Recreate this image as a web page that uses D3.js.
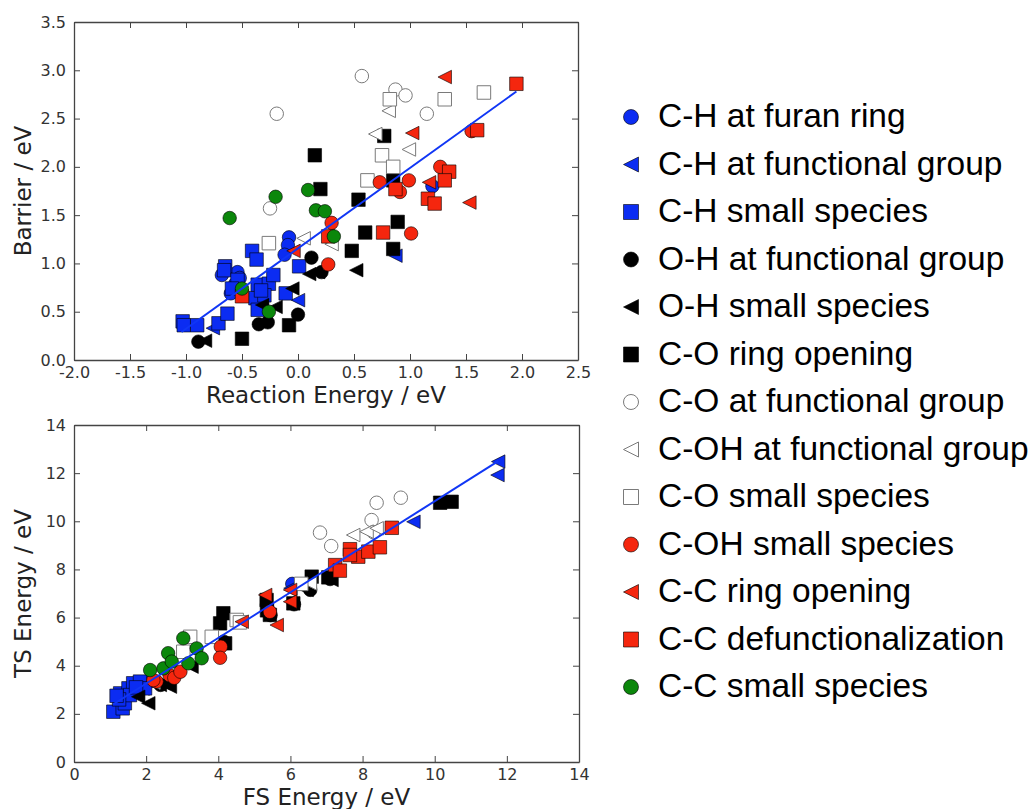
<!DOCTYPE html>
<html>
<head>
<meta charset="utf-8">
<script src="https://cdn.jsdelivr.net/npm/d3@7"></script>
<style>
  body { margin: 0; background: #fff; }
  .tick text { font-family: "DejaVu Sans", sans-serif; font-size: 16px; fill: #333; }
  .axlabel { font-family: "DejaVu Sans", sans-serif; font-size: 23px; fill: #222; }
  .legend text { font-family: "Liberation Sans", Arial, sans-serif; font-size: 33.5px; fill: #000; }
</style>
</head>
<body>
<div id="chart"></div>
<script>
// series, in legend order
const seriesNames = ["C-H at furan ring", "C-H at functional group", "C-H small species",
  "O-H at functional group", "O-H small species", "C-O ring opening",
  "C-O at functional group", "C-OH at functional group", "C-O small species",
  "C-OH small species", "C-C ring opening", "C-C defunctionalization", "C-C small species"];
const seriesShapes = ["circle", "triangle", "square", "circle", "triangle", "square",
  "circle", "triangle", "square", "circle", "triangle", "square", "circle"];
const seriesColors = ["#0b2cf2", "#0b2cf2", "#0b2cf2", "#000", "#000", "#000",
  "#fff", "#fff", "#fff", "#f5260e", "#f5260e", "#f5260e", "#0b870b"];

// top panel: [reaction energy, barrier] in eV
const chFuranTop = [[-0.08,1.27],[-0.09,1.19],[-0.12,1.09],[-0.68,0.88],[-0.54,0.91],[-0.60,0.69],[-0.56,0.79],[1.20,1.80],[-0.52,0.85]];
const chFuncTop = [[0.00,0.62],[-0.76,0.33],[0.87,1.08]];
const chSmallTop = [[-1.03,0.40],[-1.02,0.36],[-0.90,0.36],[-0.71,0.38],[-0.63,0.48],[-0.65,0.97],[-0.66,0.93],[-0.54,0.83],[-0.59,0.74],[-0.41,1.13],[-0.37,1.04],[-0.36,0.78],[-0.26,0.79],[-0.22,0.88],[-0.38,0.64],[-0.30,0.67],[-0.36,0.52],[-0.11,0.69],[0.01,0.97],[-0.33,0.72]];
const ohFuncTop = [[-0.89,0.19],[-0.35,0.37],[-0.27,0.39],[0.00,0.47],[0.12,1.06],[0.21,0.91]];
const ohSmallTop = [[-0.83,0.20],[-0.32,0.57],[-0.20,0.55],[-0.05,0.74],[0.10,0.89],[0.18,0.91],[0.52,0.93]];
const coRingTop = [[0.15,2.12],[0.77,2.32],[0.20,1.77],[0.54,1.66],[0.85,1.86],[0.60,1.32],[0.89,1.43],[0.48,1.13],[0.85,1.15],[-0.08,0.36],[-0.50,0.22]];
const coFuncTop = [[0.57,2.94],[0.87,2.80],[0.96,2.74],[1.15,2.55],[-0.19,2.55],[-0.25,1.57]];
const cohFuncTop = [[0.81,2.58],[0.69,2.34],[0.99,2.18],[0.30,1.20],[0.05,1.26]];
const coSmallTop = [[0.82,2.70],[1.31,2.70],[1.66,2.77],[0.75,2.12],[0.85,2.00],[0.62,1.86],[-0.26,1.21]];
const cohSmallTop = [[0.73,1.84],[0.99,1.86],[0.91,1.74],[1.27,2.00],[1.55,2.37],[0.30,1.42],[0.27,0.99],[1.01,1.31]];
const ccRingTop = [[1.31,2.93],[1.02,2.35],[1.17,1.84],[1.53,1.63],[-0.04,1.13]];
const ccDefuncTop = [[1.95,2.86],[1.60,2.38],[1.35,1.95],[1.31,1.86],[0.87,1.77],[1.16,1.67],[1.22,1.62],[0.76,1.32],[0.27,1.28],[-0.50,0.66]];
const ccSmallTop = [[-0.61,1.47],[-0.20,1.69],[0.09,1.76],[0.16,1.55],[0.24,1.54],[0.32,1.28],[-0.50,0.74],[-0.26,0.50]];
const topFit = [[-1.04,0.29],[1.95,2.78]];

// bottom panel: [FS energy, TS energy] in eV
const chFuranBot = [[1.60,3.00],[1.85,3.20],[6.05,7.40],[2.10,3.35]];
const chFuncBot = [[11.76,12.48],[11.74,11.92],[9.41,9.98],[1.90,3.05],[6.00,7.22]];
const chSmallBot = [[1.09,2.09],[1.35,2.23],[1.28,2.85],[1.41,2.44],[1.51,3.06],[1.64,3.27],[1.83,3.34],[1.55,2.78],[1.97,3.06],[1.25,2.60],[1.18,2.75],[1.72,3.10]];
const ohFuncBot = [[2.40,3.20],[4.15,5.00],[5.45,6.10],[6.10,6.55],[6.55,7.15],[7.10,7.60]];
const ohSmallBot = [[2.06,2.44],[1.78,2.71],[2.38,3.20],[2.66,3.13],[3.26,3.96],[2.48,3.27],[6.45,7.15],[7.14,7.56]];
const coRingBot = [[4.14,6.18],[4.05,5.76],[4.19,4.93],[10.15,10.77],[10.47,10.81],[5.43,6.11],[5.34,6.73],[6.08,6.59],[7.05,7.67],[6.59,7.70],[5.35,6.30]];
const coFuncBot = [[6.82,9.53],[7.13,8.97],[8.39,10.77],[9.06,10.98],[8.25,10.05],[8.30,9.55]];
const cohFuncBot = [[7.74,9.43],[8.11,9.57],[8.39,9.71],[6.54,7.42],[2.20,3.30]];
const coSmallBot = [[4.51,5.90],[3.82,5.20],[3.03,4.58],[3.22,5.20],[4.60,5.80],[6.30,7.40]];
const cohSmallBot = [[2.29,3.34],[2.65,3.60],[2.78,3.50],[2.95,3.75],[4.07,4.79],[4.05,4.33],[5.43,6.24],[2.20,3.40]];
const ccRingBot = [[4.65,5.83],[5.62,5.69],[5.30,6.94],[5.99,7.15],[5.99,6.66]];
const ccDefuncBot = [[8.81,9.73],[7.65,8.84],[7.88,8.53],[8.16,8.74],[8.48,8.92],[7.65,8.60],[7.24,8.18],[7.37,7.95]];
const ccSmallBot = [[2.11,3.82],[2.61,4.52],[3.03,5.14],[3.40,4.72],[3.54,4.31],[2.48,3.89],[3.17,4.10],[2.71,4.17]];
const bottomFit = [[1.09,2.40],[11.76,12.50]];

const topTicksX = [-2.0,-1.5,-1.0,-0.5,0.0,0.5,1.0,1.5,2.0,2.5];
const topTicksY = [0.0,0.5,1.0,1.5,2.0,2.5,3.0,3.5];
const botTicks = [0,2,4,6,8,10,12,14];

const topSets = [chFuranTop, chFuncTop, chSmallTop, ohFuncTop, ohSmallTop, coRingTop,
  coFuncTop, cohFuncTop, coSmallTop, cohSmallTop, ccRingTop, ccDefuncTop, ccSmallTop];
const botSets = [chFuranBot, chFuncBot, chSmallBot, ohFuncBot, ohSmallBot, coRingBot,
  coFuncBot, cohFuncBot, coSmallBot, cohSmallBot, ccRingBot, ccDefuncBot, ccSmallBot];

const W = 1035, H = 809;
const svg = d3.select("#chart").append("svg")
    .attr("width", W).attr("height", H);

function markerPath(shape, s) {
  if (shape === "circle") return d3.symbol(d3.symbolCircle, Math.PI * s * s / 4)();
  if (shape === "square") return d3.symbol(d3.symbolSquare, s * s)();
  const h = s / 2;  // left-pointing triangle
  return `M${-h},0L${h},${-h}L${h},${h}Z`;
}

function drawMarks(sel, i, size) {
  const hollow = seriesColors[i] === "#fff";
  sel.attr("d", markerPath(seriesShapes[i], size))
    .attr("fill", seriesColors[i])
    .attr("stroke", hollow ? "#7a7a7a" : "#000")
    .attr("stroke-width", hollow ? 1 : 0.6);
}

function drawPanel(box, sets, xDom, yDom, xTicks, yTicks, fmt, fit, xLabel, yLabel, xLabelY) {
  const x = d3.scaleLinear().domain(xDom).range([box.left, box.right]);
  const y = d3.scaleLinear().domain(yDom).range([box.bottom, box.top]);
  const g = svg.append("g");

  const axes = [
    [d3.axisBottom(x).tickValues(xTicks).tickFormat(fmt), `translate(0,${box.bottom})`],
    [d3.axisTop(x).tickValues(xTicks).tickFormat(""), `translate(0,${box.top})`],
    [d3.axisLeft(y).tickValues(yTicks).tickFormat(fmt), `translate(${box.left},0)`],
    [d3.axisRight(y).tickValues(yTicks).tickFormat(""), `translate(${box.right},0)`]
  ];
  axes.forEach(([ax, tr], k) => {
    const a = g.append("g").attr("transform", tr)
      .call(ax.tickSizeInner(-6).tickSizeOuter(0).tickPadding(k === 2 ? 8 : 7));
    a.select(".domain").attr("stroke", "#444").attr("stroke-width", 1.3);
    a.selectAll(".tick line").attr("stroke", "#444").attr("stroke-width", 1);
    a.attr("font-size", null).attr("font-family", null);
  });

  sets.forEach((pts, i) => {
    g.append("g").selectAll("path")
      .data(pts)
      .join("path")
      .attr("transform", d => `translate(${x(d[0])},${y(d[1])})`)
      .call(drawMarks, i, 13.5);
  });

  g.append("path")
    .datum(fit)
    .attr("fill", "none")
    .attr("stroke", "#1036f5")
    .attr("stroke-width", 2)
    .attr("d", d3.line().x(d => x(d[0])).y(d => y(d[1])));

  g.append("text").attr("class", "axlabel")
    .attr("x", (box.left + box.right) / 2).attr("y", xLabelY)
    .attr("text-anchor", "middle").text(xLabel);
  g.append("text").attr("class", "axlabel")
    .attr("transform", `translate(31,${(box.top + box.bottom) / 2}) rotate(-90)`)
    .attr("text-anchor", "middle").text(yLabel);
}

drawPanel({left: 74, right: 578, top: 22, bottom: 360}, topSets,
  [-2.0, 2.5], [0, 3.5], topTicksX, topTicksY, d => d.toFixed(1),
  topFit, "Reaction Energy / eV", "Barrier / eV", 403);

drawPanel({left: 74, right: 579, top: 425, bottom: 762}, botSets,
  [0, 14], [0, 14], botTicks, botTicks, d => String(d),
  bottomFit, "FS Energy / eV", "TS Energy / eV", 805);

// legend
const ly = d3.scalePoint().domain(seriesNames).range([127, 697]);
const legend = svg.append("g").attr("class", "legend");
seriesNames.forEach((name, i) => {
  legend.append("path")
    .attr("transform", `translate(631,${ly(name) - 10})`)
    .call(drawMarks, i, 15);
  legend.append("text")
    .attr("x", 658).attr("y", ly(name))
    .text(name);
});
</script>
</body>
</html>
